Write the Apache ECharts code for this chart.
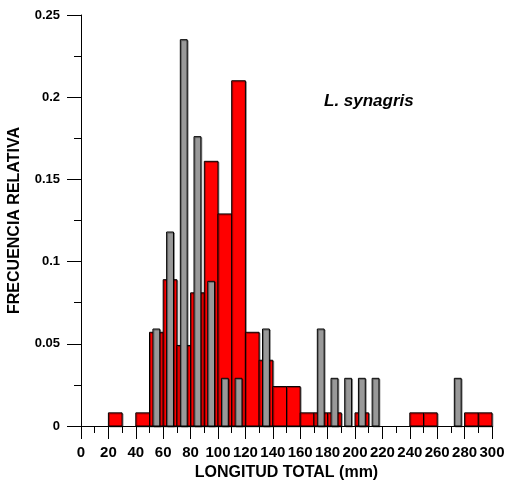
<!DOCTYPE html>
<html>
<head>
<meta charset="utf-8">
<script src="https://cdn.jsdelivr.net/npm/echarts@6/dist/echarts.min.js"></script>
<style>
  html, body { margin: 0; padding: 0; background: #fff; }
  #chart { width: 506px; height: 481px; }
</style>
</head>
<body>
<div id="chart"></div>
<script>
// clases de 10 mm (inicio de clase) y frecuencia relativa (barras rojas)
var redBinStart = [20, 40, 50, 60, 70, 80, 90, 100, 110, 120, 130, 140, 150, 160, 170, 180, 200, 240, 250, 280, 290];
var redFreq     = [0.008, 0.008, 0.057, 0.089, 0.049, 0.081, 0.161, 0.129, 0.210, 0.057, 0.040, 0.024, 0.024, 0.008, 0.008, 0.008, 0.008, 0.008, 0.008, 0.008, 0.008];
// barras grises angostas, centradas en la marca de clase
var grayCenter  = [55, 65, 75, 85, 95, 105, 115, 135, 175, 185, 195, 205, 215, 275];
var grayFreq    = [0.059, 0.118, 0.235, 0.176, 0.088, 0.029, 0.029, 0.059, 0.059, 0.029, 0.029, 0.029, 0.029, 0.029];
var binWidth = 10;
var grayWidth = 5;

var FONT = 'Liberation Sans, Arial, sans-serif';

var redData = redBinStart.map(function (s, i) { return [s, s + binWidth, redFreq[i]]; });
var grayData = grayCenter.map(function (c, i) { return [c - grayWidth / 2, c + grayWidth / 2, grayFreq[i]]; });

function renderBar(fill) {
  return function (params, api) {
    var p0 = api.coord([api.value(0), 0]);
    var p1 = api.coord([api.value(1), api.value(2)]);
    return {
      type: 'rect',
      shape: { x: p0[0], y: p1[1], width: p1[0] - p0[0], height: p0[1] - p1[1] },
      style: {
        fill: fill,
        stroke: '#000',
        lineWidth: 1,
        shadowColor: 'rgba(0,0,0,0.35)',
        shadowOffsetX: 1,
        shadowOffsetY: 1
      }
    };
  };
}

var myChart = echarts.init(document.getElementById('chart'));
myChart.setOption({
  animation: false,
  title: {
    text: 'L. synagris',
    left: 319,
    top: 88,
    textStyle: { fontFamily: FONT, fontSize: 17, fontWeight: 'bold', fontStyle: 'italic', color: '#000' }
  },
  grid: { left: 81, right: 14, top: 15, bottom: 55, containLabel: false, outerBoundsMode: 'none' },
  xAxis: {
    type: 'value',
    min: 0,
    max: 300,
    interval: 20,
    name: 'LONGITUD TOTAL (mm)',
    nameLocation: 'middle',
    nameGap: 35,
    nameTextStyle: { fontFamily: FONT, fontSize: 16, fontWeight: 'bold', color: '#000' },
    axisLine: { lineStyle: { color: '#000', width: 1 } },
    axisTick: { length: 13, lineStyle: { color: '#000' } },
    minorTick: { show: true, splitNumber: 2, length: 7, lineStyle: { color: '#000' } },
    splitLine: { show: false },
    axisLabel: { margin: 19, fontFamily: FONT, fontSize: 15, fontWeight: 'bold', color: '#000' }
  },
  yAxis: {
    type: 'value',
    min: 0,
    max: 0.25,
    interval: 0.05,
    name: 'FRECUENCIA RELATIVA',
    nameLocation: 'middle',
    nameGap: 58,
    nameTextStyle: { fontFamily: FONT, fontSize: 16, fontWeight: 'bold', color: '#000' },
    axisLine: { show: true, lineStyle: { color: '#000', width: 1 } },
    axisTick: { show: true, length: 14, lineStyle: { color: '#000' } },
    minorTick: { show: true, splitNumber: 2, length: 7, lineStyle: { color: '#000' } },
    splitLine: { show: false },
    axisLabel: { margin: 21, fontFamily: FONT, fontSize: 13, fontWeight: 'bold', color: '#000' }
  },
  series: [
    {
      type: 'custom',
      renderItem: renderBar('#ff0000'),
      encode: { x: [0, 1], y: 2 },
      data: redData,
      z: 2
    },
    {
      type: 'custom',
      renderItem: renderBar('#999999'),
      encode: { x: [0, 1], y: 2 },
      data: grayData,
      z: 3
    }
  ]
});
</script>
</body>
</html>
